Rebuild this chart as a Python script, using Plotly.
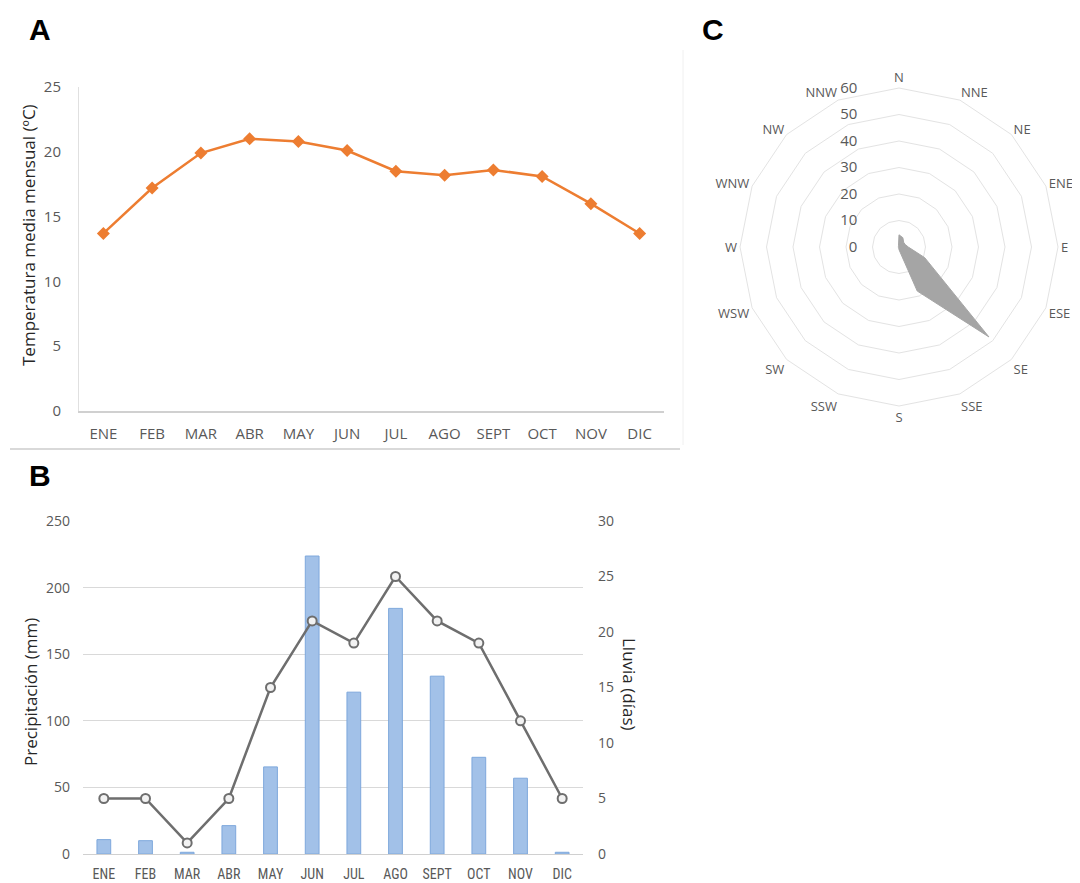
import plotly.graph_objects as go

months = ["ENE", "FEB", "MAR", "ABR", "MAY", "JUN", "JUL", "AGO", "SEPT", "OCT", "NOV", "DIC"]
temperatura = [13.7, 17.2, 19.9, 21.0, 20.8, 20.1, 18.5, 18.2, 18.6, 18.1, 16.0, 13.7]
precipitacion = [10.8, 10.0, 1.3, 21.3, 65.4, 223.7, 121.5, 184.4, 133.5, 72.6, 56.9, 1.3]
dias_lluvia = [5, 5, 1, 5, 15, 21, 19, 25, 21, 19, 12, 5]
direcciones = ["N", "NNE", "NE", "ENE", "E", "ESE", "SE", "SSE", "S", "SSW", "SW", "WSW", "W", "WNW", "NW", "NNW"]
viento = [4.6, 3.8, 2.5, 2.5, 3.5, 10.5, 48.0, 18.0, 1.0, 0.3, 0.3, 0.3, 0.3, 0.3, 0.3, 0.5]

OFF = 8  # page body margin
FW, FH = 1080 - OFF, 883 - OFF
TXT = "#595959"
FONT = "Open Sans"
NB = "\u00a0"

def px(x):
    return (x - OFF) / FW

def py(y):
    return 1 - (y - OFF) / FH

fig = go.Figure()

# Panel A
fig.add_trace(go.Scatter(
    x=months, y=temperatura, mode="lines+markers", xaxis="x", yaxis="y",
    line=dict(color="#ed7d31", width=2.5),
    marker=dict(symbol="diamond", size=10, color="#ed7d31"),
    showlegend=False, cliponaxis=False))

# Panel B
fig.add_trace(go.Bar(
    x=months, y=precipitacion, xaxis="x2", yaxis="y2",
    marker=dict(color="#a2c1e8", line=dict(color="#7ea8dc", width=1)),
    width=0.33, showlegend=False))
fig.add_trace(go.Scatter(
    x=months, y=dias_lluvia, mode="lines+markers", xaxis="x2", yaxis="y3",
    line=dict(color="#6e6e6e", width=2.5),
    marker=dict(symbol="circle", size=9, color="#f2f2f2", line=dict(color="#6e6e6e", width=2)),
    showlegend=False, cliponaxis=False))

# Panel C
fig.add_trace(go.Scatterpolar(
    r=viento + [viento[0]], theta=direcciones + [direcciones[0]],
    mode="lines", fill="toself", fillcolor="#a5a5a5",
    line=dict(color="#a5a5a5", width=1), showlegend=False))

CX, CY, R = 899, 247, 159

fig.update_layout(
    template="none",
    width=FW, height=FH, margin=dict(l=0, r=0, t=0, b=0, pad=0), autosize=False,
    paper_bgcolor="white", plot_bgcolor="white",
    font=dict(family=FONT, color=TXT),
    xaxis=dict(domain=[px(79), px(664)], anchor="y", type="category", range=[-0.5, 11.5],
               automargin=False,
               showline=True, linecolor="#d0d0d0", linewidth=1.5, ticks="",
               showgrid=False, zeroline=False,
               tickfont=dict(family=FONT, size=15, color=TXT), ticklabelstandoff=8),
    yaxis=dict(domain=[py(411), py(87)], anchor="x", range=[0, 25], dtick=5, automargin=False,
               showline=True, linecolor="#e0e0e0", linewidth=1, showgrid=False, zeroline=False, ticks="",
               tickfont=dict(family=FONT, size=15, color=TXT), ticklabelstandoff=14),
    xaxis2=dict(domain=[px(83), px(583)], anchor="y2", type="category", range=[-0.5, 11.5],
                automargin=False, showline=False, ticks="", showgrid=False, zeroline=False,
                tickfont=dict(family="Liberation Sans Narrow, Roboto Condensed, Open Sans", size=14, color=TXT),
                ticklabelstandoff=10),
    yaxis2=dict(domain=[py(854), py(521)], anchor="x2", range=[0, 250], dtick=50, automargin=False,
                showgrid=True, gridcolor="#d9d9d9", gridwidth=1, zeroline=True, zerolinecolor="#d0d0d0",
                zerolinewidth=1, showline=False, ticks="",
                tickfont=dict(family=FONT, size=14, color=TXT), ticklabelstandoff=12),
    yaxis3=dict(overlaying="y2", side="right", anchor="x2", range=[0, 30], dtick=5, automargin=False,
                showgrid=False, zeroline=False, showline=False, ticks="",
                tickfont=dict(family=FONT, size=14, color=TXT), ticklabelstandoff=14),
    polar=dict(
        domain=dict(x=[px(CX - R), px(CX + R)], y=[py(CY + R), py(CY - R)]),
        bgcolor="white",
        gridshape="linear",
        radialaxis=dict(range=[0, 60], dtick=10, angle=90, tickangle=90, side="counterclockwise",
                        ticksuffix=NB * 10,
                        showline=False, ticks="", gridcolor="#e3e3e3", gridwidth=1,
                        tickfont=dict(family=FONT, size=15, color=TXT)),
        angularaxis=dict(type="category", categoryarray=direcciones, rotation=90, direction="clockwise",
                         showgrid=False, showline=True, linecolor="#e3e3e3", linewidth=1, ticks="",
                         tickfont=dict(family=FONT, size=13, color=TXT)),
    ),
)

annotations = [
    dict(x=px(40), y=py(30), text="<b>A</b>", font=dict(family="Liberation Sans", size=30, color="black")),
    dict(x=px(40), y=py(475), text="<b>B</b>", font=dict(family="Liberation Sans", size=30, color="black")),
    dict(x=px(713), y=py(30), text="<b>C</b>", font=dict(family="Liberation Sans", size=30, color="black")),
    dict(x=px(28), y=py(235), text="Temperatura media mensual (ºC)", textangle=-90,
         font=dict(family=FONT, size=17, color="#262626")),
    dict(x=px(30), y=py(692), text="Precipitación (mm)", textangle=-90,
         font=dict(family=FONT, size=17, color="#262626")),
    dict(x=px(630), y=py(684), text="Lluvia (días)", textangle=90,
         font=dict(family=FONT, size=17, color="#262626")),
]
for a in annotations:
    a.update(xref="paper", yref="paper", showarrow=False, xanchor="center", yanchor="middle")
fig.update_layout(annotations=annotations)

fig.add_shape(type="line", xref="paper", yref="paper", x0=px(10), x1=px(680), y0=py(449), y1=py(449),
              line=dict(color="#d9d9d9", width=2))
fig.add_shape(type="line", xref="paper", yref="paper", x0=px(683), x1=px(683), y0=py(50), y1=py(445),
              line=dict(color="#f0f0f0", width=1))

fig.write_html("out.html")
